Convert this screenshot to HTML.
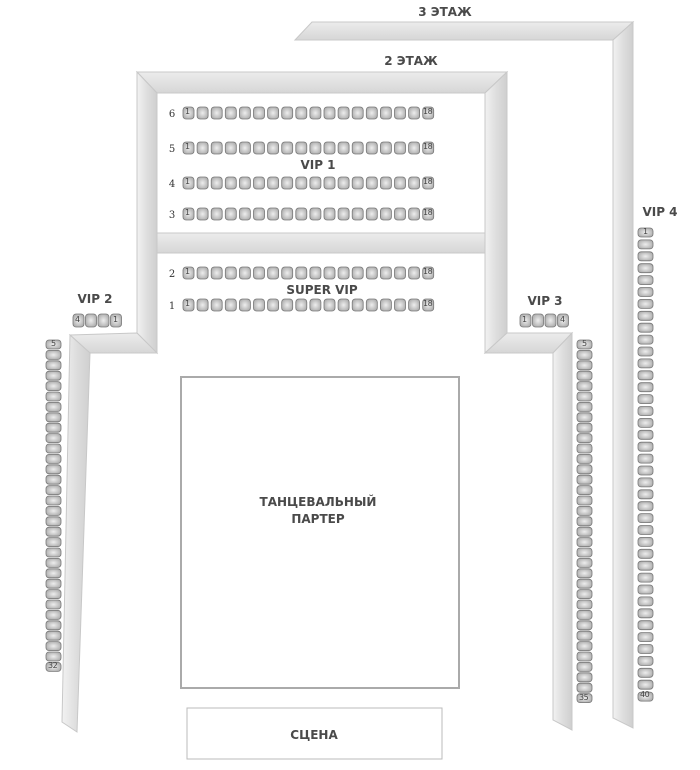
<!DOCTYPE html>
<html><head><meta charset="utf-8"><style>
html,body{margin:0;padding:0;background:#fff}
svg{display:block}
text{font-family:"DejaVu Sans","Liberation Sans",sans-serif;fill:#4a4a4a;font-weight:bold}
.r{font-size:10px;font-weight:normal;fill:#333;font-family:"DejaVu Serif","Liberation Serif",serif}
</style></head><body>
<svg id="s" width="700" height="770" viewBox="0 0 700 770" xmlns="http://www.w3.org/2000/svg">
<defs>
<linearGradient id="gv" x1="0" x2="1" y1="0" y2="0"><stop offset="0" stop-color="#f2f2f2"/><stop offset="0.5" stop-color="#dedede"/><stop offset="1" stop-color="#cfcfcf"/></linearGradient>
<linearGradient id="gh" x1="0" x2="0" y1="0" y2="1"><stop offset="0" stop-color="#ececec"/><stop offset="1" stop-color="#d6d6d6"/></linearGradient>
<radialGradient id="seat" cx="0.5" cy="0.5" r="0.6"><stop offset="0" stop-color="#eeeeee"/><stop offset="1" stop-color="#a8a8a8"/></radialGradient>
</defs>
<g fill="url(#gh)" stroke="#c8c8c8">
<polygon points="295,40 312,22 633,22 613,40"/>
<polygon points="613,40 633,22 633,728 613,718" fill="url(#gv)"/>
<polygon points="137,72 507,72 485,93 157,93"/>
<polygon points="137,72 157,93 157,353 137,333" fill="url(#gv)"/>
<polygon points="507,72 485,93 485,353 507,333" fill="url(#gv)"/>
<polygon points="157,233 485,233 485,253 157,253"/>
<polygon points="70,335 137,333 157,353 90,353"/>
<polygon points="70,335 90,353 77,732 62,722" fill="url(#gv)"/>
<polygon points="507,333 572,333 553,353 485,353"/>
<polygon points="572,333 553,353 553,720 572,730" fill="url(#gv)"/>
</g>
<rect x="181" y="377" width="278" height="311" fill="#fff" stroke="#aaa" stroke-width="2"/>
<rect x="187" y="708" width="255" height="51" fill="#fff" stroke="#bbb" stroke-width="1"/>
<g id="seats"></g>
<text x="445" y="16" font-size="12" text-anchor="middle">3 ЭТАЖ</text>
<text x="411" y="65" font-size="12" text-anchor="middle">2 ЭТАЖ</text>
<text x="318" y="169" font-size="12" text-anchor="middle">VIP 1</text>
<text x="322" y="294" font-size="12" text-anchor="middle">SUPER VIP</text>
<text x="95" y="303" font-size="12" text-anchor="middle">VIP 2</text>
<text x="545" y="305" font-size="12" text-anchor="middle">VIP 3</text>
<text x="660" y="216" font-size="12" text-anchor="middle">VIP 4</text>
<text x="318" y="506" font-size="12" text-anchor="middle">ТАНЦЕВАЛЬНЫЙ</text>
<text x="318" y="523" font-size="12" text-anchor="middle">ПАРТЕР</text>
<text x="314" y="739" font-size="12" text-anchor="middle">СЦЕНА</text>
<text class="r" x="172" y="117" text-anchor="middle">6</text>
<text class="r" x="172" y="152" text-anchor="middle">5</text>
<text class="r" x="172" y="187" text-anchor="middle">4</text>
<text class="r" x="172" y="218" text-anchor="middle">3</text>
<text class="r" x="172" y="277" text-anchor="middle">2</text>
<text class="r" x="172" y="309" text-anchor="middle">1</text>
</svg>
<script>
var g=document.getElementById('seats'),NS='http://www.w3.org/2000/svg';
function seat(x,y,w,h){var r=document.createElementNS(NS,'rect');r.setAttribute('x',x);r.setAttribute('y',y);r.setAttribute('width',w);r.setAttribute('height',h);r.setAttribute('rx',3);r.setAttribute('fill','url(#seat)');r.setAttribute('stroke','#777');r.setAttribute('stroke-width','0.8');g.appendChild(r);}
[107,142,177,208,267,299].forEach(function(y){for(var i=0;i<18;i++)seat(183+i*14.1,y,11,12);});
for(var i=0;i<4;i++){seat(73+i*12.5,314,11,13);seat(520+i*12.5,314,11,13);}
for(var i=0;i<32;i++)seat(46,340+i*10.4,15,9);
for(var i=0;i<35;i++)seat(577,340+i*10.4,15,9);
for(var i=0;i<40;i++)seat(638,228+i*11.9,15,9);
</script>
<div style="position:absolute;left:0;top:0;width:700px;height:770px;pointer-events:none;font-family:'DejaVu Sans',sans-serif;font-size:8px;color:#444;letter-spacing:-0.5px">
<span style="position:absolute;left:185px;top:107px">1</span><span style="position:absolute;left:423px;top:107px">18</span>
<span style="position:absolute;left:185px;top:142px">1</span><span style="position:absolute;left:423px;top:142px">18</span>
<span style="position:absolute;left:185px;top:177px">1</span><span style="position:absolute;left:423px;top:177px">18</span>
<span style="position:absolute;left:185px;top:208px">1</span><span style="position:absolute;left:423px;top:208px">18</span>
<span style="position:absolute;left:185px;top:267px">1</span><span style="position:absolute;left:423px;top:267px">18</span>
<span style="position:absolute;left:185px;top:299px">1</span><span style="position:absolute;left:423px;top:299px">18</span>
<span style="position:absolute;left:75px;top:315px">4</span><span style="position:absolute;left:113px;top:315px">1</span>
<span style="position:absolute;left:522px;top:315px">1</span><span style="position:absolute;left:560px;top:315px">4</span>
<span style="position:absolute;left:51px;top:339px">5</span><span style="position:absolute;left:48px;top:661px">32</span>
<span style="position:absolute;left:582px;top:339px">5</span><span style="position:absolute;left:579px;top:693px">35</span>
<span style="position:absolute;left:643px;top:227px">1</span><span style="position:absolute;left:640px;top:690px">40</span>
</div>
</body></html>
